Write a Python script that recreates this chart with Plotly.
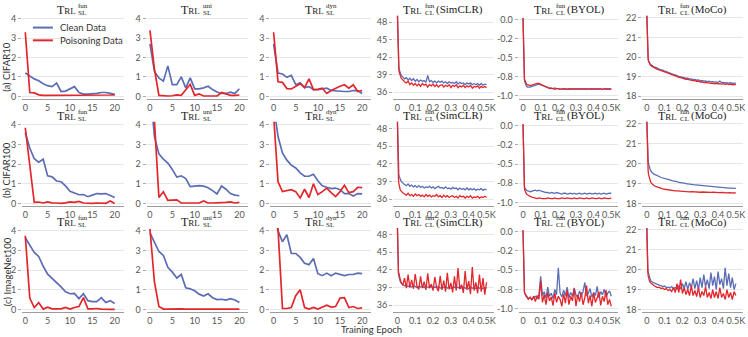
import plotly.graph_objects as go
from plotly.subplots import make_subplots

# ---- x positions ----
epochs = list(range(21))
clSteps = [0, 2, 4, 6, 8, 10, 15, 20, 25] + list(range(30, 510, 10))

# ---- supervised (SL) losses, epochs 0..20 ----
c10FunClean = [1.2, 1.05, 0.9, 0.8, 0.65, 0.55, 0.5, 0.68, 0.25, 0.27, 0.38, 0.5, 0.2, 0.12, 0.12, 0.12, 0.15, 0.2, 0.2, 0.15, 0.1]
c10FunPoison = [3.3, 0.2, 0.18, 0.08, 0.05, 0.05, 0.05, 0.04, 0.05, 0.05, 0.04, 0.05, 0.05, 0.05, 0.05, 0.05, 0.06, 0.05, 0.06, 0.07, 0.08]
c10UniClean = [2.7, 1.28, 0.95, 0.78, 1.57, 0.6, 0.6, 1.0, 0.44, 0.95, 0.39, 0.39, 0.44, 0.52, 0.35, 0.22, 0.15, 0.15, 0.22, 0.15, 0.39]
c10UniPoison = [3.4, 1.4, 0.05, 0.02, 0.02, 0.03, 0.08, 0.05, 0.35, 0.62, 0.05, 0.12, 0.02, 0.02, 0.02, 0.02, 0.2, 0.12, 0.05, 0.05, 0.07]
c10DynClean = [2.7, 1.2, 1.15, 0.98, 1.08, 0.6, 0.7, 0.45, 0.5, 0.35, 0.35, 0.38, 0.42, 0.3, 0.28, 0.25, 0.25, 0.25, 0.3, 0.3, 0.15]
c10DynPoison = [3.3, 0.75, 0.72, 0.4, 0.38, 0.5, 0.65, 0.45, 0.9, 0.35, 0.36, 0.42, 0.15, 0.3, 0.42, 0.52, 0.6, 0.42, 0.6, 0.25, 0.3]

c100FunClean = [3.6, 2.82, 2.27, 2.1, 2.25, 1.4, 1.35, 1.14, 1.1, 0.89, 0.62, 0.55, 0.44, 0.45, 0.34, 0.42, 0.5, 0.48, 0.5, 0.4, 0.3]
c100FunPoison = [3.85, 1.95, 0.05, 0.07, 0.02, 0.08, 0.03, 0.02, 0.0, 0.03, 0.08, 0.05, 0.1, 0.02, 0.0, 0.0, 0.02, 0.0, 0.0, 0.12, 0.0]
c100UniClean = [6.0, 3.4, 2.52, 2.25, 2.05, 1.73, 1.34, 1.4, 1.26, 0.85, 0.88, 0.9, 0.88, 0.8, 0.65, 0.48, 0.88, 0.72, 0.5, 0.42, 0.39]
c100UniPoison = [7.0, 4.2, 0.3, 0.59, 0.15, 0.17, 0.18, 0.02, 0.02, 0.05, 0.05, 0.02, 0.12, 0.02, 0.02, 0.02, 0.02, 0.05, 0.08, 0.02, 0.05]
c100DynClean = [5.0, 3.4, 2.57, 2.2, 1.95, 1.8, 1.55, 1.38, 1.38, 1.48, 1.15, 0.9, 0.82, 0.75, 0.78, 0.7, 0.5, 0.5, 0.38, 0.5, 0.48]
c100DynPoison = [4.5, 1.1, 0.6, 0.65, 0.7, 0.6, 0.28, 0.72, 0.3, 1.0, 0.45, 0.6, 0.78, 0.55, 0.35, 0.6, 0.92, 0.55, 0.6, 0.82, 0.8]

inFunClean = [3.65, 3.3, 2.9, 2.7, 2.2, 1.8, 1.6, 1.4, 1.15, 0.9, 0.8, 0.82, 0.55, 0.8, 0.45, 0.4, 0.4, 0.6, 0.35, 0.45, 0.3]
inFunPoison = [3.75, 0.58, 0.1, 0.35, 0.02, 0.12, 0.03, 0.02, 0.03, 0.1, 0.02, 0.1, 0.15, 0.6, 0.03, 0.03, 0.05, 0.02, 0.0, 0.0, 0.0]
inUniClean = [3.9, 3.45, 2.95, 2.75, 2.15, 1.9, 1.6, 1.78, 1.1, 1.05, 0.95, 0.78, 0.68, 0.8, 0.6, 0.5, 0.52, 0.48, 0.55, 0.48, 0.35]
inUniPoison = [4.1, 1.4, 0.15, 0.02, 0.02, 0.03, 0.02, 0.03, 0.02, 0.02, 0.02, 0.02, 0.02, 0.02, 0.02, 0.05, 0.02, 0.02, 0.02, 0.02, 0.02]
inDynClean = [5.0, 4.0, 3.45, 3.8, 2.85, 2.85, 2.65, 2.35, 2.28, 2.6, 1.82, 1.72, 1.85, 1.72, 1.85, 1.78, 1.72, 1.78, 1.78, 1.85, 1.82]
inDynPoison = [5.0, 4.1, 0.05, 0.05, 0.1, 0.7, 1.0, 0.1, 0.02, 0.1, 0.02, 0.12, 0.22, 0.12, 0.15, 0.58, 0.6, 0.1, 0.15, 0.05, 0.08]

# ---- contrastive (CL) losses, at clSteps ----
simclrC10Clean = [49.6, 45.8, 43.0, 41.4, 40.5, 39.9, 39.3, 39.0, 38.8,
                  38.6, 38.3, 38.5, 38.1, 38.4, 38.0, 38.3, 37.9, 38.2, 37.8,
                  38.1, 37.9, 38.0, 37.7, 38.9, 37.8, 38.0, 37.7, 37.9, 37.6,
                  37.9, 37.7, 37.9, 37.6, 37.8, 37.5, 37.8, 37.6, 37.7, 37.5,
                  37.8, 37.4, 37.7, 37.5, 37.6, 37.3, 37.6, 37.4, 37.6, 37.3,
                  37.5, 37.3, 37.5, 37.2, 37.5, 37.2, 37.4, 37.3]
simclrC10Poison = [49.6, 45.2, 42.3, 40.8, 40.0, 39.5, 38.9, 38.5, 38.3,
                   38.1, 37.8, 37.6, 37.9, 37.3, 37.6, 37.2, 37.5, 37.1, 37.4,
                   37.0, 37.5, 37.2, 37.4, 36.9, 37.3, 37.1, 37.4, 37.0, 37.3,
                   36.9, 37.2, 37.3, 36.9, 37.2, 37.0, 37.3, 36.8, 37.2, 37.0,
                   37.3, 36.8, 37.1, 36.9, 37.2, 36.8, 37.1, 36.9, 37.2, 36.7,
                   37.0, 36.9, 37.1, 36.7, 37.0, 36.8, 37.0, 36.8]
byolC10Clean = [0.02, -0.38, -0.62, -0.73, -0.79, -0.82, -0.86, -0.88, -0.89,
                -0.89, -0.89, -0.88, -0.87, -0.86, -0.85, -0.85, -0.86, -0.87, -0.88,
                -0.89, -0.90, -0.90, -0.91, -0.91, -0.90, -0.91, -0.91, -0.92, -0.91,
                -0.91, -0.92, -0.91, -0.91, -0.92, -0.91, -0.92, -0.91, -0.91, -0.92,
                -0.91, -0.92, -0.91, -0.92, -0.91, -0.91, -0.92, -0.91, -0.92, -0.91,
                -0.92, -0.91, -0.92, -0.91, -0.91, -0.92, -0.91, -0.92]
byolC10Poison = [0.02, -0.35, -0.60, -0.72, -0.78, -0.80, -0.83, -0.85, -0.86,
                 -0.86, -0.87, -0.86, -0.85, -0.84, -0.84, -0.84, -0.85, -0.87, -0.88,
                 -0.89, -0.90, -0.91, -0.90, -0.91, -0.92, -0.91, -0.91, -0.92, -0.91,
                 -0.92, -0.91, -0.92, -0.92, -0.91, -0.92, -0.91, -0.92, -0.92, -0.91,
                 -0.92, -0.91, -0.92, -0.91, -0.92, -0.92, -0.91, -0.92, -0.91, -0.92,
                 -0.91, -0.92, -0.92, -0.91, -0.92, -0.91, -0.92, -0.91]
mocoC10Clean = [22.3, 21.2, 20.5, 20.15, 19.95, 19.82, 19.7, 19.63, 19.6,
                19.56, 19.5, 19.47, 19.41, 19.39, 19.34, 19.33, 19.28, 19.27, 19.21,
                19.2, 19.14, 19.12, 19.07, 19.05, 19.01, 19.0, 18.96, 18.95, 18.92,
                18.92, 18.88, 18.89, 18.85, 18.86, 18.82, 18.83, 18.79, 18.81, 18.77,
                18.78, 18.75, 18.77, 18.73, 18.75, 18.72, 18.73, 18.7, 18.78, 18.7,
                18.71, 18.68, 18.7, 18.67, 18.69, 18.66, 18.68, 18.67]
mocoC10Poison = [22.3, 21.1, 20.4, 20.1, 19.9, 19.78, 19.66, 19.6, 19.55,
                 19.52, 19.46, 19.43, 19.37, 19.35, 19.3, 19.28, 19.24, 19.22, 19.17,
                 19.15, 19.1, 19.08, 19.03, 19.0, 18.97, 18.95, 18.91, 18.9, 18.87,
                 18.86, 18.83, 18.83, 18.8, 18.8, 18.76, 18.77, 18.73, 18.74, 18.7,
                 18.71, 18.68, 18.69, 18.66, 18.67, 18.64, 18.66, 18.63, 18.65, 18.62,
                 18.64, 18.61, 18.63, 18.6, 18.62, 18.59, 18.61, 18.6]

simclrC100Clean = [49.5, 44.8, 41.2, 40.6, 40.2, 39.9, 39.4, 39.1, 38.9,
                   38.7, 38.5, 38.3, 38.6, 38.2, 38.4, 38.1, 38.3, 38.0, 38.3,
                   38.0, 38.2, 37.9, 38.1, 38.0, 38.2, 37.9, 38.1, 37.8, 38.0,
                   38.2, 37.9, 38.0, 37.8, 38.1, 37.8, 37.9, 37.7, 38.0, 37.8,
                   37.9, 37.6, 37.9, 37.7, 37.8, 37.6, 37.9, 37.6, 37.8, 37.6,
                   37.8, 37.5, 37.7, 37.6, 37.8, 37.5, 37.7, 37.6]
simclrC100Poison = [49.5, 43.0, 40.6, 39.4, 38.7, 38.3, 37.7, 37.4, 37.2,
                    37.1, 36.9, 36.7, 37.0, 36.6, 36.8, 36.5, 36.9, 36.6, 36.8,
                    36.5, 36.7, 36.4, 36.8, 36.5, 36.7, 36.4, 36.6, 36.5, 36.8,
                    36.4, 36.6, 36.3, 36.7, 36.4, 36.6, 36.3, 36.5, 36.6, 36.3,
                    36.5, 36.2, 36.6, 36.4, 36.5, 36.2, 36.5, 36.3, 36.6, 36.2,
                    36.4, 36.3, 36.5, 36.2, 36.4, 36.3, 36.5, 36.3]
byolC100Clean = [0.02, -0.4, -0.64, -0.74, -0.79, -0.81, -0.83, -0.84, -0.85,
                 -0.85, -0.86, -0.85, -0.84, -0.84, -0.85, -0.84, -0.85, -0.86, -0.86,
                 -0.87, -0.87, -0.88, -0.87, -0.88, -0.88, -0.87, -0.88, -0.88, -0.89,
                 -0.88, -0.88, -0.89, -0.88, -0.88, -0.89, -0.88, -0.89, -0.88, -0.88,
                 -0.89, -0.88, -0.88, -0.89, -0.88, -0.88, -0.89, -0.88, -0.88, -0.89,
                 -0.88, -0.89, -0.88, -0.88, -0.89, -0.88, -0.88, -0.88]
byolC100Poison = [0.02, -0.42, -0.66, -0.76, -0.81, -0.84, -0.87, -0.89, -0.9,
                  -0.91, -0.92, -0.93, -0.94, -0.94, -0.95, -0.94, -0.95, -0.95, -0.95,
                  -0.95, -0.94, -0.95, -0.95, -0.95, -0.94, -0.95, -0.95, -0.95, -0.94,
                  -0.95, -0.95, -0.94, -0.95, -0.95, -0.95, -0.94, -0.95, -0.95, -0.94,
                  -0.95, -0.95, -0.95, -0.94, -0.95, -0.95, -0.94, -0.95, -0.95, -0.95,
                  -0.94, -0.95, -0.95, -0.94, -0.95, -0.95, -0.95, -0.94]
mocoC100Clean = [22.3, 21.3, 20.7, 20.35, 20.15, 20.0, 19.8, 19.68, 19.6,
                 19.55, 19.47, 19.43, 19.37, 19.35, 19.3, 19.28, 19.24, 19.23, 19.19,
                 19.18, 19.14, 19.13, 19.1, 19.09, 19.05, 19.05, 19.02, 19.02, 18.99,
                 18.99, 18.96, 18.96, 18.94, 18.93, 18.92, 18.91, 18.89, 18.89, 18.87,
                 18.87, 18.86, 18.85, 18.84, 18.83, 18.82, 18.82, 18.8, 18.81, 18.79,
                 18.79, 18.78, 18.78, 18.77, 18.77, 18.76, 18.76, 18.75]
mocoC100Poison = [22.3, 20.9, 20.2, 19.85, 19.62, 19.47, 19.25, 19.12, 19.03,
                  18.97, 18.9, 18.85, 18.81, 18.78, 18.75, 18.73, 18.71, 18.69, 18.68,
                  18.67, 18.65, 18.64, 18.63, 18.63, 18.62, 18.61, 18.6, 18.61, 18.59,
                  18.6, 18.58, 18.59, 18.58, 18.57, 18.58, 18.57, 18.56, 18.57, 18.56,
                  18.57, 18.55, 18.56, 18.55, 18.56, 18.54, 18.55, 18.54, 18.55, 18.53,
                  18.55, 18.53, 18.54, 18.53, 18.54, 18.52, 18.54, 18.53]

simclrInClean = [49.5, 45.0, 42.6, 41.6, 41.0, 40.6, 40.1, 39.8, 39.6,
                 39.5, 39.3, 39.4, 39.2, 39.3, 39.1, 39.3, 39.2, 39.0, 39.2,
                 39.1, 39.3, 39.0, 39.2, 39.1, 39.0, 39.2, 38.9, 39.1, 39.0,
                 39.2, 38.9, 39.1, 39.0, 39.2, 38.9, 39.1, 38.9, 39.0, 39.1,
                 38.9, 39.1, 38.8, 39.0, 39.1, 38.9, 39.0, 38.8, 39.1, 38.9,
                 39.0, 38.8, 39.1, 38.9, 39.0, 38.8, 39.0, 38.9]
simclrInPoison = [49.5, 42.8, 42.0, 41.3, 41.5, 40.8, 40.5, 40.0, 39.8,
                  39.4, 40.6, 38.9, 41.2, 39.0, 40.3, 38.8, 41.3, 39.2, 38.7,
                  40.9, 38.9, 40.0, 38.6, 41.4, 38.9, 39.6, 38.5, 40.8, 39.0,
                  38.4, 41.0, 38.6, 40.2, 38.3, 41.5, 38.7, 39.8, 38.2, 40.9,
                  38.5, 42.3, 38.8, 39.5, 38.1, 41.8, 38.6, 40.1, 37.9, 42.5,
                  38.5, 39.9, 38.0, 41.2, 38.3, 40.6, 37.8, 39.9]
byolInClean = [0.02, -0.4, -0.63, -0.74, -0.79, -0.8, -0.82, -0.84, -0.85,
               -0.87, -0.86, -0.88, -0.85, -0.84, -0.87, -0.82, -0.58, -0.83, -0.78,
               -0.86, -0.72, -0.84, -0.80, -0.87, -0.75, -0.82, -0.47, -0.80, -0.85,
               -0.76, -0.83, -0.72, -0.86, -0.79, -0.84, -0.73, -0.82, -0.86, -0.77,
               -0.83, -0.78, -0.66, -0.84, -0.80, -0.74, -0.85, -0.79, -0.83, -0.71,
               -0.86, -0.78, -0.82, -0.75, -0.85, -0.80, -0.77, -0.84]
byolInPoison = [0.02, -0.38, -0.6, -0.72, -0.78, -0.8, -0.83, -0.85, -0.86,
                -0.88, -0.85, -0.89, -0.84, -0.91, -0.83, -0.88, -0.64, -0.92, -0.82,
                -0.95, -0.79, -0.9, -0.85, -0.96, -0.8, -0.92, -0.84, -0.88, -0.97,
                -0.81, -0.93, -0.76, -0.95, -0.84, -0.9, -0.74, -0.97, -0.82, -0.91,
                -0.79, -0.95, -0.86, -0.7, -0.93, -0.83, -0.97, -0.8, -0.92, -0.86,
                -0.78, -0.96, -0.84, -0.91, -0.76, -0.95, -0.88, -0.97]
mocoInClean = [22.3, 21.0, 20.4, 20.1, 19.9, 19.8, 19.6, 19.5, 19.42,
               19.38, 19.33, 19.3, 19.25, 19.22, 19.2, 19.15, 19.18, 19.1, 19.12,
               19.08, 19.15, 19.05, 19.1, 19.03, 19.2, 19.02, 19.3, 19.05, 19.4,
               19.0, 19.35, 19.1, 19.55, 19.05, 19.45, 19.0, 19.6, 19.1, 19.75,
               19.15, 19.5, 19.05, 19.85, 19.2, 19.65, 19.0, 19.9, 19.25, 19.55,
               19.05, 20.1, 19.2, 19.8, 19.1, 19.6, 19.0, 19.3]
mocoInPoison = [22.3, 20.8, 20.2, 19.9, 19.7, 19.6, 19.45, 19.35, 19.3,
                19.25, 19.2, 19.15, 19.1, 19.12, 19.05, 19.08, 19.0, 19.05, 18.95,
                19.0, 18.9, 19.1, 18.85, 19.3, 18.85, 19.5, 18.8, 19.1, 18.75,
                19.0, 18.7, 19.2, 18.7, 18.95, 18.65, 19.1, 18.6, 18.9, 18.7,
                19.15, 18.6, 18.85, 18.55, 19.0, 18.6, 18.9, 18.55, 19.1, 18.6,
                18.8, 18.5, 19.0, 18.6, 18.85, 18.5, 18.9, 18.7]

# ---- style / layout ----
BLUE = '#5b6db4'
RED = '#e2262b'
SERIF = 'Liberation Serif'
SANS = 'Lato'
W, H = 748, 337

colPx = [(22, 124), (147, 249), (271, 372), (394, 495), (520, 620), (644, 745)]
rowPx = [(12, 97), (120, 206), (228, 314)]

rowNames = ['(a) CIFAR10', '(b) CIFAR100', '(c) ImageNet100']
rowLabelY = [64, 169, 272]

slX = dict(range=[-0.75, 22], tickvals=[0, 5, 10, 15, 20], ticktext=['0', '5', '10', '15', '20'])
clX = dict(range=[-25, 540], tickvals=[0, 100, 200, 300, 400, 500],
           ticktext=['0', '0.1', '0.2', '0.3', '0.4', '0.5K'])
slY = dict(range=[-0.15, 4.15], tickvals=[0, 1, 2, 3, 4], ticktext=['0', '1', '2', '3', '4'])
yAxes = [
    slY, slY, slY,
    dict(range=[34.8, 49.1], tickvals=[36, 39, 42, 45, 48], ticktext=['36', '39', '42', '45', '48']),
    dict(range=[-1.05, 0.05], tickvals=[0, -0.25, -0.5, -0.75, -1.0],
         ticktext=['0.0', '-0.2', '-0.5', '-0.8', '-1.0']),
    dict(range=[17.85, 22.1], tickvals=[18, 19, 20, 21, 22], ticktext=['18', '19', '20', '21', '22']),
]
titles = [('fun', 'SL', ''), ('uni', 'SL', ''), ('dyn', 'SL', ''),
          ('fun', 'CL', '(SimCLR)'), ('fun', 'CL', '(BYOL)'), ('fun', 'CL', '(MoCo)')]

panels = [
    [(c10FunClean, c10FunPoison), (c10UniClean, c10UniPoison), (c10DynClean, c10DynPoison),
     (simclrC10Clean, simclrC10Poison), (byolC10Clean, byolC10Poison), (mocoC10Clean, mocoC10Poison)],
    [(c100FunClean, c100FunPoison), (c100UniClean, c100UniPoison), (c100DynClean, c100DynPoison),
     (simclrC100Clean, simclrC100Poison), (byolC100Clean, byolC100Poison), (mocoC100Clean, mocoC100Poison)],
    [(inFunClean, inFunPoison), (inUniClean, inUniPoison), (inDynClean, inDynPoison),
     (simclrInClean, simclrInPoison), (byolInClean, byolInPoison), (mocoInClean, mocoInPoison)],
]


def px(x):
    return x / W


def py(y):
    return 1 - y / H


def note(x, y, text, **kw):
    d = dict(xref='paper', yref='paper', x=px(x), y=py(y), text=text, showarrow=False,
             xanchor='center', yanchor='middle', borderpad=0)
    d.update(kw)
    return d


fig = make_subplots(rows=3, cols=6)
annotations = []
tickFont = dict(family=SANS, size=9, color='#555')

for r in range(3):
    for c in range(6):
        clean, poison = panels[r][c]
        xs = epochs if c < 3 else clSteps
        lw = 1.7 if c < 3 else 1.3
        fig.add_trace(go.Scatter(x=xs, y=clean, mode='lines', name='Clean Data',
                                 line=dict(color=BLUE, width=lw)), row=r + 1, col=c + 1)
        fig.add_trace(go.Scatter(x=xs, y=poison, mode='lines', name='Poisoning Data',
                                 line=dict(color=RED, width=lw)), row=r + 1, col=c + 1)

        fig.update_xaxes(domain=[px(colPx[c][0]), px(colPx[c][1])], tickmode='array',
                         showgrid=False, zeroline=False, showline=True, linecolor='#9c9c9c',
                         linewidth=1, ticks='', tickangle=0, tickfont=tickFont,
                         **(slX if c < 3 else clX), row=r + 1, col=c + 1)
        fig.update_yaxes(domain=[py(rowPx[r][1]), py(rowPx[r][0])], tickmode='array',
                         showgrid=True, gridcolor='#e6e6e6', gridwidth=1, zeroline=False,
                         showline=False, ticks='outside', ticklen=3, tickcolor='#aaaaaa',
                         tickfont=tickFont, **yAxes[c], row=r + 1, col=c + 1)

        # panel title: T RL with stacked super/subscript
        sup, sub, suffix = titles[c]
        cx = (colPx[c][0] + colPx[c][1]) / 2
        top = rowPx[r][0]
        wT, wS = 18, 10
        wSuf = 5.6 * len(suffix) + 3 if suffix else 0
        left = cx - (wT + wS + wSuf) / 2
        serif = dict(family=SERIF, color='#222')
        annotations.append(note(left + wT, top - 6, "T<span style='font-size:9px'>RL</span>",
                                xanchor='right', font=dict(size=12, **serif)))
        annotations.append(note(left + wT + 0.5, top - 10, sup, xanchor='left',
                                font=dict(size=7, **serif)))
        annotations.append(note(left + wT + 0.5, top - 3, sub, xanchor='left',
                                font=dict(size=7, **serif)))
        if suffix:
            annotations.append(note(left + wT + wS + 2, top - 6, suffix, xanchor='left',
                                    font=dict(size=11, **serif)))

# row labels
for r in range(3):
    annotations.append(note(7, rowLabelY[r], rowNames[r], textangle=-90,
                            font=dict(family=SANS, size=9.5, color='#333')))

annotations.append(note(372, 331, 'Training Epoch', font=dict(family=SANS, size=9.5, color='#333')))

# legend drawn by hand inside the first panel
shapes = []
for i, (name, color) in enumerate([('Clean Data', BLUE), ('Poisoning Data', RED)]):
    ly = 24 + i * 13
    shapes.append(dict(type='line', xref='paper', yref='paper', x0=px(33), x1=px(53),
                       y0=py(ly), y1=py(ly), line=dict(color=color, width=2)))
    annotations.append(note(59, ly, name, xanchor='left',
                            font=dict(family=SANS, size=9.5, color='#333')))

fig.update_layout(
    width=W, height=H,
    margin=dict(l=0, r=0, t=0, b=0),
    paper_bgcolor='white', plot_bgcolor='white',
    showlegend=False,
    annotations=annotations,
    shapes=shapes,
)

# no mode bar, and drop the default 8px page margin so the figure sits at the window corner
fig.write_html("out.html", config={'displayModeBar': False},
               post_script="document.body.style.margin='0';")
